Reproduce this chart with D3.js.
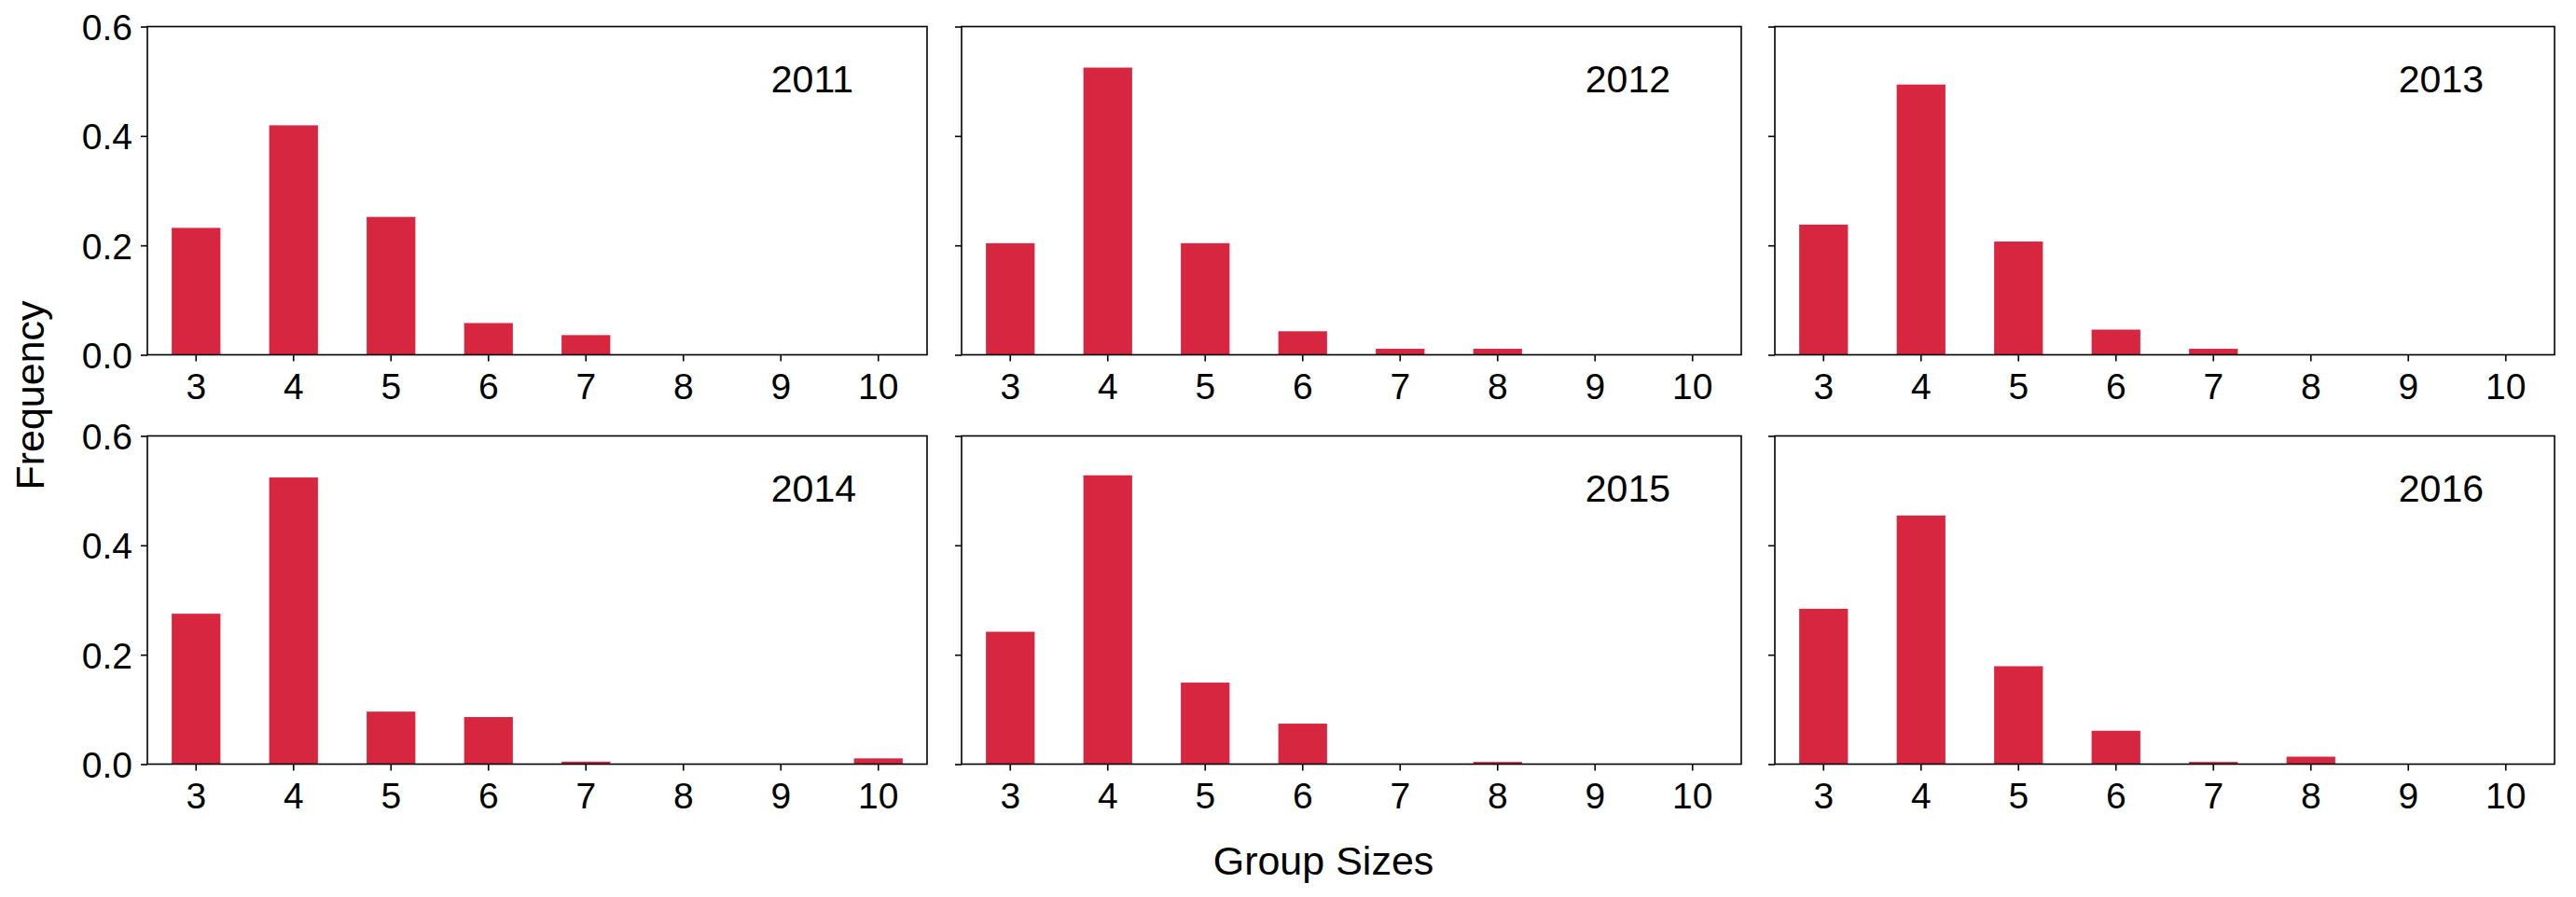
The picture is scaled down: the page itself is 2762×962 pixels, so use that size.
<!DOCTYPE html>
<html>
<head>
<meta charset="utf-8">
<script src="https://cdn.jsdelivr.net/npm/d3@7"></script>
<style>
  body { margin: 0; background: #fff; }
  text { font-family: "Liberation Sans", Arial, Helvetica, sans-serif; fill: #000; }
</style>
</head>
<body>
<div id="visual"></div>
<script>
const groupSizes = [3, 4, 5, 6, 7, 8, 9, 10];
const years = ["2011", "2012", "2013", "2014", "2015", "2016"];
const freq2011 = [0.232, 0.4195, 0.252, 0.058, 0.036, 0, 0, 0];
const freq2012 = [0.204, 0.525, 0.204, 0.043, 0.011, 0.011, 0, 0];
const freq2013 = [0.238, 0.494, 0.207, 0.046, 0.011, 0, 0, 0];
const freq2014 = [0.275, 0.524, 0.096, 0.086, 0.0045, 0, 0, 0.0105];
const freq2015 = [0.242, 0.528, 0.149, 0.074, 0, 0.004, 0, 0];
const freq2016 = [0.284, 0.4545, 0.179, 0.061, 0.004, 0.0136, 0, 0];
const yTicks = [0, 0.2, 0.4, 0.6];

const series = [freq2011, freq2012, freq2013, freq2014, freq2015, freq2016];

const width = 2762;
const height = 962;
const panelW = 836;
const panelH = 352;
const lefts = [158, 1031, 1903];
const tops = [28.5, 467.5];
const barColor = "#d72640";

const svg = d3.select("#visual")
    .append("svg")
    .attr("width", width)
    .attr("height", height);

const x = d3.scaleBand()
    .domain(groupSizes)
    .range([0, panelW])
    .paddingInner(0.5)
    .paddingOuter(0.25);

const y = d3.scaleLinear()
    .domain([0, 0.6])
    .range([panelH, 0]);

years.forEach((year, i) => {
    const col = i % 3;
    const row = Math.floor(i / 3);
    const g = svg.append("g")
        .attr("transform", "translate(" + lefts[col] + "," + tops[row] + ")");

    g.selectAll("rect.bar")
        .data(series[i])
        .enter()
        .append("rect")
        .attr("class", "bar")
        .attr("x", (d, j) => x(groupSizes[j]))
        .attr("y", d => y(d))
        .attr("width", x.bandwidth())
        .attr("height", d => panelH - y(d))
        .attr("fill", barColor);

    const xAxis = g.append("g")
        .attr("transform", "translate(0," + panelH + ")")
        .call(d3.axisBottom(x).tickSize(7).tickSizeOuter(0).tickPadding(13));
    xAxis.select(".domain").remove();
    xAxis.selectAll("line").attr("stroke", "#000").attr("stroke-width", 1.6);
    xAxis.selectAll("text")
        .attr("font-size", 39)
        .attr("dy", "0.71em");

    const yAxis = g.append("g")
        .call(d3.axisLeft(y).tickValues(yTicks).tickSize(7).tickSizeOuter(0).tickPadding(9)
            .tickFormat(col === 0 ? d3.format(".1f") : () => ""));
    yAxis.select(".domain").remove();
    yAxis.selectAll("line").attr("stroke", "#000").attr("stroke-width", 1.6);
    yAxis.selectAll("text")
        .attr("font-size", 39)
        .attr("dy", "0.36em");

    // frame
    g.append("rect")
        .attr("width", panelW)
        .attr("height", panelH)
        .attr("fill", "none")
        .attr("stroke", "#000")
        .attr("stroke-width", 1.6);

    g.append("text")
        .attr("x", panelW * 0.8)
        .attr("y", panelH * 0.2)
        .attr("font-size", 41)
        .text(year);
});

svg.append("text")
    .attr("transform", "translate(47," + ((tops[0] + tops[1] + panelH) / 2) + ") rotate(-90)")
    .attr("text-anchor", "middle")
    .attr("font-size", 43)
    .text("Frequency");

svg.append("text")
    .attr("x", 1419)
    .attr("y", 938)
    .attr("text-anchor", "middle")
    .attr("font-size", 43)
    .text("Group Sizes");
</script>
</body>
</html>
